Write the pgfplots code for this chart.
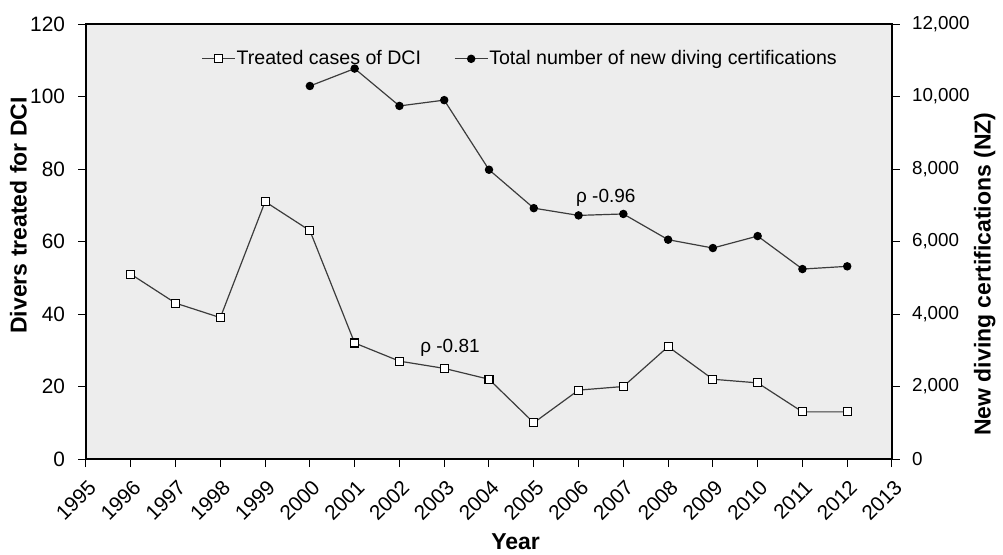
\documentclass[border=0pt]{standalone}
\usepackage{fontspec}
\setmainfont{Liberation Sans}
\usepackage{pgfplots}
\pgfplotsset{compat=1.18}

\definecolor{plotbg}{RGB}{237,237,237}
\definecolor{linegray}{RGB}{60,60,60}

\begin{document}
\begin{tikzpicture}
\pgfplotsset{
  every axis/.append style={
    scale only axis, width=403pt, height=217.5pt,
    xmin=1995, xmax=2013,
    tick align=outside, major tick length=4pt,
    tick style={black, line width=0.5pt},
    axis line style={black, line width=0.6pt},
    tick label style={font=\fontsize{10.4}{12}\selectfont},
    label style={font=\fontsize{11.5}{13}\selectfont\bfseries},
    /pgf/number format/assume math mode=true,
  },
}
\begin{axis}[
  axis background/.style={fill=plotbg},
  ymin=0, ymax=120, ytick={0,20,...,120},
  xtick={1995,...,2013}, xtick pos=bottom, ytick pos=left,
  x tick label style={xshift=0.5pt, yshift=-1pt, rotate=45, anchor=north east,
    /pgf/number format/1000 sep={}},
  y tick label style={xshift=-3pt},
  xlabel={Year}, ylabel={Divers treated for DCI},
  xlabel style={at={(axis description cs:0.533,-0.189)}, anchor=center},
  ylabel style={at={(axis description cs:-0.084,0.56)}, anchor=center},
  legend style={draw=none, fill=none, at={(0.538,0.92)}, anchor=center,
    legend columns=2, font=\fontsize{9.8}{11}\selectfont,
    nodes={inner xsep=0.5pt},
    /tikz/every even column/.append style={column sep=16pt}},
  legend image code/.code={\draw[mark repeat=2,mark phase=2,#1] plot coordinates {(0pt,0pt)(8.25pt,0pt)(16.5pt,0pt)};},
]
\addplot[linegray, line width=0.6pt, mark=square*, mark size=2pt,
  mark options={fill=white, draw=black, solid, line width=0.6pt}]
  coordinates {
  (1996,51) (1997,43) (1998,39) (1999,71) (2000,63) (2001,32) (2002,27)
  (2003,25) (2004,22) (2005,10) (2006,19) (2007,20) (2008,31) (2009,22)
  (2010,21) (2011,13) (2012,13)
  };
\addlegendentry{Treated cases of DCI}
\addlegendimage{linegray, line width=0.6pt, mark=*, mark size=1.8pt, mark options={fill=black, draw=black, solid}}
\addlegendentry{Total number of new diving certifications}
\node[font=\fontsize{9.5}{11}\selectfont] at (axis cs:2003.13,30.6) {ρ -0.81};
\node[font=\fontsize{9.5}{11}\selectfont] at (axis cs:2006.61,72) {ρ -0.96};
\end{axis}
\begin{axis}[
  axis y line*=right, hide x axis,
  ymin=0, ymax=12000, ytick={0,2000,...,12000},
  scaled y ticks=false,
  y tick label style={font=\fontsize{9.4}{11}\selectfont,
    /pgf/number format/1000 sep={,}, xshift=2.5pt},
  ylabel={New diving certifications (NZ)},
  ylabel style={at={(axis description cs:1.115,0.425)}, anchor=center},
]
\addplot[linegray, line width=0.6pt, mark=*, mark size=1.8pt,
  mark options={fill=black, draw=black, solid}]
  coordinates {
  (2000,10290) (2001,10770) (2002,9740) (2003,9900) (2004,7980) (2005,6920)
  (2006,6720) (2007,6760) (2008,6050) (2009,5820) (2010,6150) (2011,5240)
  (2012,5315)
  };
\end{axis}
\pgfresetboundingbox
\path[use as bounding box] (-43pt,-47.5pt) rectangle (458.5pt,229.5pt);
\end{tikzpicture}
\end{document}
